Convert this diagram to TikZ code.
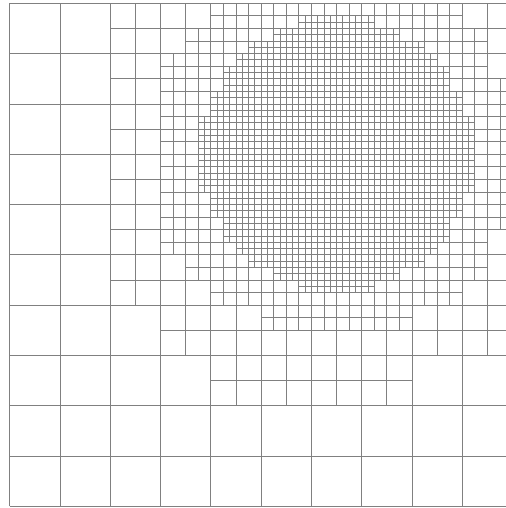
\documentclass[tikz,border=0pt]{standalone}
\usepackage{tikz}
\usetikzlibrary{calc}
\tikzset{
  meshline/.style={line width=0.4pt, draw=black!50},
  coarse/.style={meshline, step=1},
  levelone/.style={meshline, step=0.5},
  leveltwo/.style={meshline, step=0.25},
  levelthree/.style={meshline, step=0.125}
}
\begin{document}
\begin{tikzpicture}
  \useasboundingbox (-0.19,-0.035) rectangle (9.87,10.065);
  \clip (-0.19,-0.035) rectangle (9.87,10.065);
  % base mesh
  \draw[coarse] (0,0) grid (10,10);
  % refined patches, one rectangle per row of cells
  \foreach \xa/\xb/\ya/\yb in {2/10/4/10, 3/10/3/4, 4/8/2/3}
    \draw[levelone] (\xa,\ya) grid (\xb,\yb);
  \foreach \xa/\xb/\ya/\yb in {4/9/9.5/10, 3.5/9.5/9/9.5, 3/9.5/8.5/9,
      3/10/5.5/8.5, 3/9.5/5/5.5, 3.5/9.5/4.5/5, 4/9/4/4.5, 5/8/3.5/4}
    \draw[leveltwo] (\xa,\ya) grid (\xb,\yb);
  \foreach \xa/\xb/\ya/\yb in {5.75/7.25/9.5/9.75, 5.25/7.75/9.25/9.5,
      4.75/8.25/9/9.25, 4.5/8.5/8.75/9, 4.25/8.75/8.25/8.75,
      4/9/7.75/8.25, 3.75/9.25/6.25/7.75, 4/9/5.75/6.25,
      4.25/8.75/5.25/5.75, 4.5/8.5/5/5.25, 4.75/8.25/4.75/5,
      5.25/7.75/4.5/4.75, 5.75/7.25/4.25/4.5}
    \draw[levelthree] (\xa,\ya) grid (\xb,\yb);
\end{tikzpicture}
\end{document}
